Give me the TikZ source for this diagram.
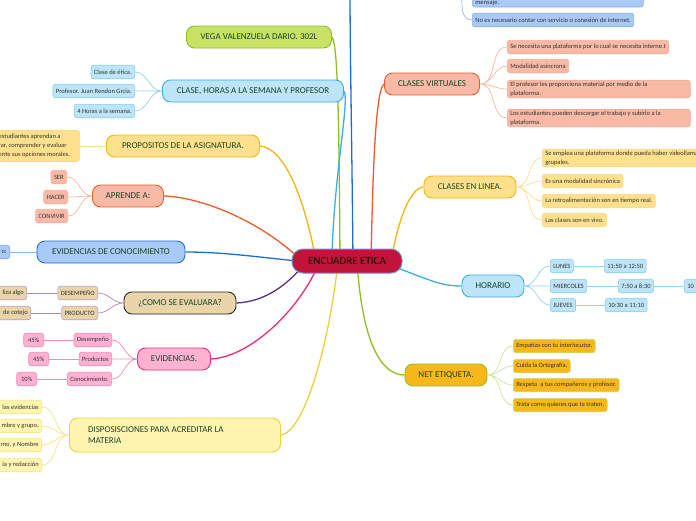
\documentclass[tikz,border=0pt]{standalone}
\usepackage{fontspec}
\setmainfont{Carlito}
\usetikzlibrary{positioning,calc,backgrounds}
\definecolor{hubred}{HTML}{C2133A}
\definecolor{hubline}{HTML}{5B9BD5}
\definecolor{limefill}{HTML}{C9E265}
\definecolor{limeline}{HTML}{8CBF26}
\definecolor{skyfill}{HTML}{BDE4F7}
\definecolor{skyline}{HTML}{3AAEE3}
\definecolor{goldfill}{HTML}{FFE08C}
\definecolor{goldline}{HTML}{F6B40E}
\definecolor{salmonfill}{HTML}{F8BAA6}
\definecolor{salmonline}{HTML}{EF5A2A}
\definecolor{bluefill}{HTML}{A9CAF6}
\definecolor{blueline}{HTML}{1F6DD2}
\definecolor{tanfill}{HTML}{E9D5A9}
\definecolor{purpleline}{HTML}{5E2D83}
\definecolor{pinkfill}{HTML}{FFB1D2}
\definecolor{pinkline}{HTML}{EE2A7B}
\definecolor{creamfill}{HTML}{FFF4B0}
\definecolor{creamline}{HTML}{EDD236}
\definecolor{amberfill}{HTML}{F8B819}
\definecolor{topictext}{HTML}{17432B}
\definecolor{leaftext}{HTML}{333333}
\tikzset{
  hub/.style={rectangle, rounded corners=11pt, fill=hubred, draw=hubline, line width=1pt, minimum width=110pt, minimum height=24pt, font=\fontsize{11}{13}\selectfont, text=black},
  topic/.style={rectangle, rounded corners=8pt, draw, line width=0.9pt, minimum height=22pt, inner xsep=6pt, font=\fontsize{9}{10.5}\selectfont, text=topictext},
  leaf/.style={rectangle, rounded corners=2.5pt, draw, line width=0.6pt, minimum height=13.5pt, inner xsep=3pt, inner ysep=1.5pt, font=\fontsize{6.5}{9}\selectfont, text=leaftext, align=flush left},
  branch/.style={line width=1.3pt},
  twig/.style={line width=0.7pt}
}

\begin{document}
\begin{tikzpicture}[x=1pt, y=1pt]
  \useasboundingbox (0,0) rectangle (696,-520);
  \clip (0,0) rectangle (696,-520);

  \node[hub] (encuadre) at (347,-261) {ENCUADRE ETICA};

  \node[topic, fill=limefill, draw=limeline, minimum width=145pt] (vega) at (259,-37) {VEGA VALENZUELA DARIO. 302L};

  \node[topic, fill=skyfill, draw=skyline, minimum width=181pt] (clase) at (253,-91) {CLASE, HORAS A LA SEMANA Y PROFESOR};
  \node[leaf, fill=skyfill, draw=skyline!60, anchor=east] (etica) at (135,-72) {Clase de ética.};
  \node[leaf, fill=skyfill, draw=skyline!60, anchor=east] (profesor) at (135,-91) {Profesor. Juan Rendon Grcia.};
  \node[leaf, fill=skyfill, draw=skyline!60, anchor=east] (horas) at (135,-111) {4 Horas a la semana.};

  \node[topic, fill=goldfill, draw=goldline, minimum width=153pt] (propositos) at (183,-146) {PROPOSITOS DE LA ASIGNATURA.};
  \node[leaf, fill=goldfill, draw=goldline!50, anchor=east, text width=78pt, minimum height=31pt] (objetivo) at (80,-146) {estudiantes aprendan a\\rar, comprender y evaluar\\ente sus opciones morales.};

  \node[topic, fill=salmonfill, draw=salmonline, minimum width=71pt] (aprende) at (128,-196) {APRENDE A:};
  \node[leaf, fill=salmonfill, draw=salmonline!50, anchor=east] (ser) at (67,-177) {SER};
  \node[leaf, fill=salmonfill, draw=salmonline!50, anchor=east] (hacer) at (68,-197) {HACER};
  \node[leaf, fill=salmonfill, draw=salmonline!50, anchor=east] (convivir) at (68,-216) {CONVIVIR};

  \node[topic, fill=bluefill, draw=blueline, minimum width=148pt] (conocimiento) at (111,-252) {EVIDENCIAS DE CONOCIMIENTO};
  \node[leaf, fill=bluefill, draw=blueline!60, anchor=east, text width=24pt, align=flush right] (examen) at (10,-252) {o:};

  \node[topic, fill=tanfill, draw=black!85, minimum width=112pt] (evaluara) at (180,-303) {¿COMO SE EVALUARA?};
  \node[leaf, fill=tanfill, draw=purpleline!45, anchor=east] (desempeno) at (98,-293) {DESEMPEÑO};
  \node[leaf, fill=tanfill, draw=purpleline!45, anchor=east] (producto) at (98,-313) {PRODUCTO};
  \node[leaf, fill=tanfill, draw=purpleline!45, anchor=east, text width=40pt, align=flush right] (realiza) at (27,-293) {liza algo};
  \node[leaf, fill=tanfill, draw=purpleline!45, anchor=east, text width=40pt, align=flush right] (cotejo) at (31,-313) {de cotejo};

  \node[topic, fill=pinkfill, draw=pinkline, minimum width=73pt] (evidencias) at (174,-359) {EVIDENCIAS.};
  \node[leaf, fill=pinkfill, draw=pinkline!55, anchor=east] (pdesempeno) at (112,-340) {Desempeño};
  \node[leaf, fill=pinkfill, draw=pinkline!55, anchor=east] (productos) at (112,-359) {Productos};
  \node[leaf, fill=pinkfill, draw=pinkline!55, anchor=east] (pconocimiento) at (112,-379) {Conocimiento.};
  \node[leaf, fill=pinkfill, draw=pinkline!55, anchor=east, minimum width=20pt] (pcta) at (44,-340) {45\%};
  \node[leaf, fill=pinkfill, draw=pinkline!55, anchor=east, minimum width=20pt] (pctb) at (49,-359) {45\%};
  \node[leaf, fill=pinkfill, draw=pinkline!55, anchor=east, minimum width=20pt] (pctc) at (37,-379) {10\%};

  \node[topic, fill=creamfill, draw=creamline, minimum width=211pt, minimum height=34pt, text width=174pt, align=flush left] (disposiciones) at (175,-435) {DISPOSISCIONES PARA ACREDITAR LA\\MATERIA};
  \node[leaf, fill=creamfill, draw=creamline!60, anchor=east, text width=60pt, align=flush right] (entrega) at (42,-407) {las evidencias};
  \node[leaf, fill=creamfill, draw=creamline!60, anchor=east, text width=60pt, align=flush right] (grupo) at (42,-426) {mbre y grupo.};
  \node[leaf, fill=creamfill, draw=creamline!60, anchor=east, text width=60pt, align=flush right] (nombre) at (42,-445) {rno, y Nombre};
  \node[leaf, fill=creamfill, draw=creamline!60, anchor=east, text width=60pt, align=flush right] (redaccion) at (42,-465) {ía y redacción};

  \coordinate (arriba) at (350,10);
  \coordinate (medios) at (462,10);
  \node[leaf, fill=bluefill, draw=blueline!55, anchor=base west, text width=165pt, text height=14pt, text depth=1.5pt] (mensaje) at (472,-4) {mensaje.};
  \node[leaf, fill=bluefill, draw=blueline!55, anchor=west] (conexion) at (472,-20) {No es necesario contar con servicio o conexión de internet.};

  \node[topic, fill=salmonfill, draw=salmonline, minimum width=95pt] (virtuales) at (432,-84) {CLASES VIRTUALES};
  \node[leaf, fill=salmonfill, draw=salmonline!50, anchor=west] (plataforma) at (507,-47) {Se necesita una plataforma por lo cual se necesita interne.t};
  \node[leaf, fill=salmonfill, draw=salmonline!50, anchor=west] (asincrona) at (507,-66) {Modalidad asíncrona};
  \node[leaf, fill=salmonfill, draw=salmonline!50, anchor=west, text width=177pt] (material) at (507,-89) {El profesor les proporciona material por medio de la\\plataforma.};
  \node[leaf, fill=salmonfill, draw=salmonline!50, anchor=west, text width=177pt] (descarga) at (507,-118) {Los estudiantes pueden descargar el trabajo y subirlo a la\\plataforma.};

  \node[topic, fill=goldfill, draw=goldline, minimum width=92pt] (linea) at (470,-187) {CLASES EN LINEA.};
  \node[leaf, fill=goldfill, draw=goldline!50, anchor=west, text width=185pt] (videollamada) at (542,-158) {Se emplea una plataforma donde pueda haber videollamadas\\grupales.};
  \node[leaf, fill=goldfill, draw=goldline!50, anchor=west] (sincronica) at (542,-181) {Es una modalidad sincrónica};
  \node[leaf, fill=goldfill, draw=goldline!50, anchor=west] (retro) at (542,-201) {La retroalimentación son en tiempo real.};
  \node[leaf, fill=goldfill, draw=goldline!50, anchor=west] (envivo) at (542,-220) {Las clases son en vivo.};

  \node[topic, fill=skyfill, draw=skyline, minimum width=62pt] (horario) at (493,-286) {HORARIO};
  \node[leaf, fill=skyfill, draw=skyline!60, anchor=west] (lunes) at (550,-266) {LUNES};
  \node[leaf, fill=skyfill, draw=skyline!60, anchor=west] (miercoles) at (550,-286) {MIERCOLES};
  \node[leaf, fill=skyfill, draw=skyline!60, anchor=west] (jueves) at (550,-305) {JUEVES};
  \node[leaf, fill=skyfill, draw=skyline!60, anchor=west] (hlunes) at (604,-266) {11:50 a 12:50};
  \node[leaf, fill=skyfill, draw=skyline!60, anchor=west] (hmiercoles) at (618,-286) {7:50 a 8:30};
  \node[leaf, fill=skyfill, draw=skyline!60, anchor=west] (hjueves) at (605,-305) {10:30 a 11:10};
  \node[leaf, fill=skyfill, draw=skyline!60, anchor=west, text width=34pt] (hmiercolesb) at (684,-286) {10};

  \node[topic, fill=amberfill, draw=limeline, minimum width=82pt] (net) at (446,-375) {NET ETIQUETA.};
  \node[leaf, fill=amberfill, draw=limeline!55, anchor=west] (empatiza) at (513,-346) {Empatiza con tu interlocutor.};
  \node[leaf, fill=amberfill, draw=limeline!55, anchor=west] (ortografia) at (513,-366) {Cuida la Ortografía.};
  \node[leaf, fill=amberfill, draw=limeline!55, anchor=west] (respeta) at (513,-385) {Respeta\ \ a tus compañeros y profesor.};
  \node[leaf, fill=amberfill, draw=limeline!55, anchor=west] (trata) at (513,-405) {Trata como quieres que te traten.};

  \begin{pgfonlayer}{background}
    \draw[branch, limeline] ($(encuadre.center)+(-7,0)$) .. controls (339,-120) and (338,-45) .. (vega.east);
    \draw[branch, skyline] ($(encuadre.center)+(-15,0)$) .. controls (333,-180) and (350,-100) .. (clase.east);
    \draw[branch, blueline] ($(encuadre.center)+(6,0)$) .. controls (352,-150) and (350,-50) .. (arriba);
    \draw[branch, salmonline] ($(encuadre.center)+(24,0)$) .. controls (373,-160) and (376,-90) .. (virtuales.west);
    \draw[branch, goldline] ($(encuadre.center)+(44,0)$) .. controls (398,-220) and (410,-188) .. (linea.west);
    \draw[branch, skyline] ($(encuadre.center)+(40,-3)$) .. controls (430,-280) and (440,-286) .. (horario.west);
    \draw[branch, limeline] ($(encuadre.center)+(10,0)$) .. controls (362,-340) and (380,-375) .. (net.west);
    \draw[branch, creamline] ($(encuadre.center)+(-9,0)$) .. controls (330,-340) and (305,-432) .. (disposiciones.east);
    \draw[branch, pinkline] ($(encuadre.center)+(-27,0)$) .. controls (300,-310) and (250,-357) .. (evidencias.east);
    \draw[branch, purpleline] ($(encuadre.center)+(-40,0)$) .. controls (280,-295) and (255,-302) .. (evaluara.east);
    \draw[branch, blueline] ($(encuadre.center)+(-50,0)$) .. controls (250,-256) and (220,-252) .. (conocimiento.east);
    \draw[branch, salmonline] ($(encuadre.center)+(-45,0)$) .. controls (260,-220) and (200,-197) .. (aprende.east);
    \draw[branch, goldline] ($(encuadre.center)+(-31,0)$) .. controls (305,-200) and (285,-148) .. (propositos.east);

    \draw[twig, skyline!55] (clase.west) to[out=180,in=0] (etica.east) (clase.west) to[out=180,in=0] (profesor.east) (clase.west) to[out=180,in=0] (horas.east);
    \draw[twig, goldline!40] (propositos.west) -- (objetivo.east);
    \draw[twig, salmonline!45] (aprende.west) to[out=180,in=0] (ser.east) (aprende.west) to[out=180,in=0] (hacer.east) (aprende.west) to[out=180,in=0] (convivir.east);
    \draw[twig, blueline!50] (conocimiento.west) -- (examen.east);
    \draw[twig, purpleline!55] (evaluara.west) to[out=180,in=0] (desempeno.east) (evaluara.west) to[out=180,in=0] (producto.east);
    \draw[twig, purpleline!55] (desempeno.west) -- (realiza.east) (producto.west) -- (cotejo.east);
    \draw[twig, pinkline!55] (evidencias.west) to[out=180,in=0] (pdesempeno.east) (evidencias.west) to[out=180,in=0] (productos.east) (evidencias.west) to[out=180,in=0] (pconocimiento.east);
    \draw[twig, pinkline!55] (pdesempeno.west) -- (pcta.east) (productos.west) -- (pctb.east) (pconocimiento.west) -- (pctc.east);
    \draw[twig, creamline!60] (disposiciones.west) to[out=180,in=0] (entrega.east) (disposiciones.west) to[out=180,in=0] (grupo.east) (disposiciones.west) to[out=180,in=0] (nombre.east) (disposiciones.west) to[out=180,in=0] (redaccion.east);
    \draw[twig, blueline!50] (medios) to[out=-90,in=180] (mensaje.west) (medios) to[out=-90,in=180] (conexion.west);
    \draw[twig, salmonline!45] (virtuales.east) to[out=0,in=180] (plataforma.west) (virtuales.east) to[out=0,in=180] (asincrona.west) (virtuales.east) to[out=0,in=180] (material.west) (virtuales.east) to[out=0,in=180] (descarga.west);
    \draw[twig, goldline!45] (linea.east) to[out=0,in=180] (videollamada.west) (linea.east) to[out=0,in=180] (sincronica.west) (linea.east) to[out=0,in=180] (retro.west) (linea.east) to[out=0,in=180] (envivo.west);
    \draw[twig, skyline!55] (horario.east) to[out=0,in=180] (lunes.west) (horario.east) to[out=0,in=180] (miercoles.west) (horario.east) to[out=0,in=180] (jueves.west);
    \draw[twig, skyline!55] (lunes.east) -- (hlunes.west) (miercoles.east) -- (hmiercoles.west) (jueves.east) -- (hjueves.west) (hmiercoles.east) -- (hmiercolesb.west);
    \draw[twig, limeline!45] (net.east) to[out=0,in=180] (empatiza.west) (net.east) to[out=0,in=180] (ortografia.west) (net.east) to[out=0,in=180] (respeta.west) (net.east) to[out=0,in=180] (trata.west);
  \end{pgfonlayer}
\end{tikzpicture}
\end{document}
